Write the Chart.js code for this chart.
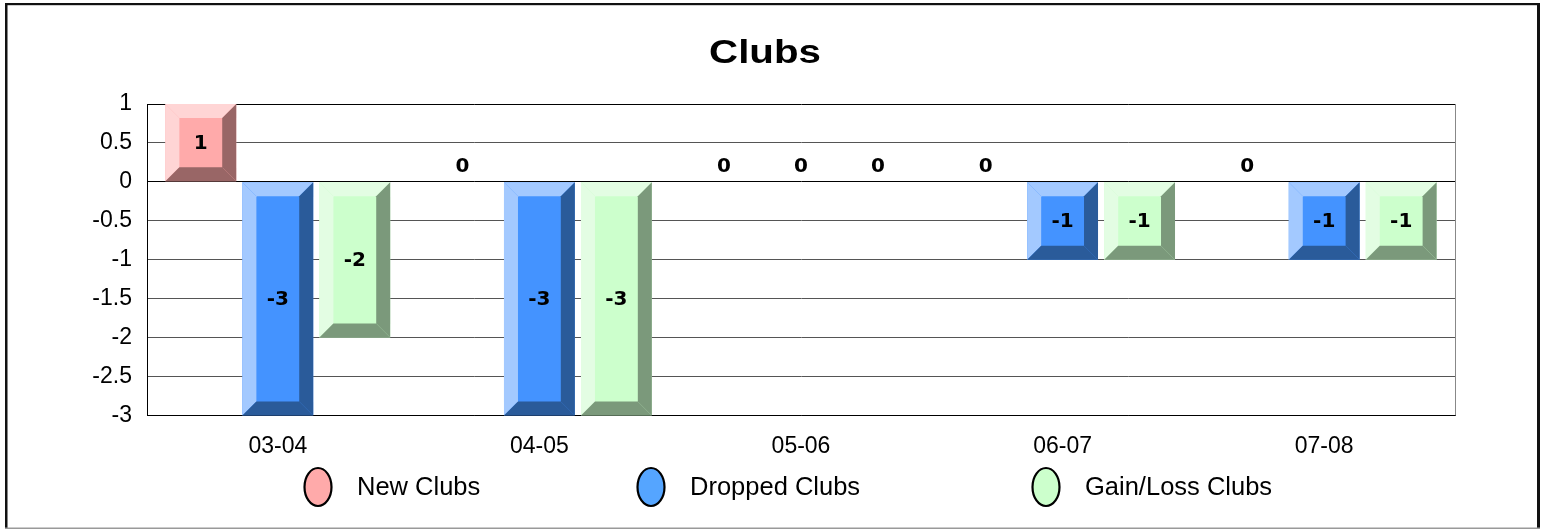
<!DOCTYPE html>
<html>
<head>
<meta charset="utf-8">
<script src="https://cdn.jsdelivr.net/npm/chart.js@4.4.0/dist/chart.umd.min.js"></script>
<style>
  html, body { margin: 0; padding: 0; background: #fff; }
  #wrap { position: relative; width: 1543px; height: 529px; }
</style>
</head>
<body>
<div id="wrap"><canvas id="c" width="1543" height="529"></canvas></div>
<script>
// ---- data ----
const chartTitle = 'Clubs';
const categories = ['03-04', '04-05', '05-06', '06-07', '07-08'];
const newClubs = [1, 0, 0, 0, 0];
const droppedClubs = [-3, -3, 0, -1, -1];
const gainLossClubs = [-2, -3, 0, -1, -1];
const seriesNames = ['New Clubs', 'Dropped Clubs', 'Gain/Loss Clubs'];
const yTicks = [1, 0.5, 0, -0.5, -1, -1.5, -2, -2.5, -3];

// ---- styles ----
const faceColors = ['#ffaaaa', '#4493ff', '#ccffcc'];
const lightColors = ['#ffd5d5', '#a3c9ff', '#e3fde3'];
const darkColors = ['#996666', '#2a5b9a', '#7b997b'];
const legendColors = ['#ffaaaa', '#55a5ff', '#ccffcc'];
const legendX = [318, 651, 1046];
const legendY = 487;
const BEVEL = 14;
const FONT = '"Liberation Sans", Arial, sans-serif';

const bevelPlugin = {
  id: 'bevel',
  beforeDraw(chart) {
    const ctx = chart.ctx;
    ctx.save();
    ctx.fillStyle = '#fff';
    ctx.fillRect(0, 0, chart.width, chart.height);
    ctx.restore();
  },
  afterDatasetsDraw(chart) {
    const ctx = chart.ctx;
    ctx.save();
    chart.data.datasets.forEach((ds, di) => {
      const meta = chart.getDatasetMeta(di);
      meta.data.forEach((bar) => {
        const p = bar.getProps(['x', 'y', 'base', 'width'], true);
        const L = p.x - p.width / 2, R = p.x + p.width / 2;
        const T = Math.min(p.y, p.base), B = Math.max(p.y, p.base);
        if (B - T < 1) return;
        const b = Math.min(BEVEL, (B - T) / 2, (R - L) / 2);
        const poly = (pts, col) => {
          ctx.beginPath();
          ctx.moveTo(pts[0][0], pts[0][1]);
          for (let i = 1; i < pts.length; i++) ctx.lineTo(pts[i][0], pts[i][1]);
          ctx.closePath();
          ctx.fillStyle = col;
          ctx.fill();
        };
        poly([[L, T], [R, T], [R - b, T + b], [L + b, T + b]], lightColors[di]);
        poly([[L, T], [L + b, T + b], [L + b, B - b], [L, B]], lightColors[di]);
        poly([[R, T], [R, B], [R - b, B - b], [R - b, T + b]], darkColors[di]);
        poly([[L, B], [L + b, B - b], [R - b, B - b], [R, B]], darkColors[di]);
      });
    });
    // value labels
    const zeroY = chart.scales.y.getPixelForValue(0);
    ctx.font = 'bold 20px "DejaVu Sans", sans-serif';
    ctx.fillStyle = '#000';
    ctx.textAlign = 'center';
    ctx.textBaseline = 'middle';
    chart.data.datasets.forEach((ds, di) => {
      const meta = chart.getDatasetMeta(di);
      meta.data.forEach((bar, i) => {
        const v = ds.data[i];
        const p = bar.getProps(['x', 'y', 'base'], true);
        const y = v === 0 ? zeroY - 16 : (p.y + p.base) / 2;
        ctx.fillText(String(v), p.x, y + 1);
      });
    });
    ctx.restore();
  },
  afterDraw(chart) {
    const ctx = chart.ctx;
    const a = chart.chartArea;
    ctx.save();
    // title
    ctx.save();
    ctx.translate(765, 62.5);
    ctx.scale(1.22, 1);
    ctx.font = 'bold 33px ' + FONT;
    ctx.fillStyle = '#000';
    ctx.textAlign = 'center';
    ctx.textBaseline = 'alphabetic';
    ctx.fillText(chartTitle, 0, 0);
    ctx.restore();
    // right edge of plot area
    ctx.strokeStyle = '#888';
    ctx.lineWidth = 1;
    ctx.beginPath();
    ctx.moveTo(Math.round(a.right) + 0.5, a.top);
    ctx.lineTo(Math.round(a.right) + 0.5, a.bottom);
    ctx.stroke();
    // legend
    ctx.font = '25.5px ' + FONT;
    ctx.textAlign = 'left';
    ctx.textBaseline = 'middle';
    chart.data.datasets.forEach((ds, di) => {
      const cx = legendX[di];
      ctx.beginPath();
      ctx.ellipse(cx, legendY, 13.5, 19, 0, 0, Math.PI * 2);
      ctx.fillStyle = legendColors[di];
      ctx.fill();
      ctx.lineWidth = 2.2;
      ctx.strokeStyle = '#000';
      ctx.stroke();
      ctx.fillStyle = '#000';
      ctx.fillText(ds.label, cx + 39, legendY + 1);
    });
    // outer frame
    ctx.fillStyle = '#111';
    ctx.fillRect(5, 3, 2.5, 526);
    ctx.fillRect(5, 3, 1535, 2.2);
    ctx.fillRect(1537, 3, 3, 526);
    ctx.fillStyle = '#999';
    ctx.fillRect(5, 527.5, 1535, 1.5);
    ctx.restore();
  }
};

const datasets = [newClubs, droppedClubs, gainLossClubs].map((d, i) => ({
  label: seriesNames[i],
  data: d,
  backgroundColor: faceColors[i],
  borderWidth: 0,
  categoryPercentage: 0.883,
  barPercentage: 0.92
}));

new Chart(document.getElementById('c'), {
  type: 'bar',
  data: { labels: categories, datasets },
  plugins: [bevelPlugin],
  options: {
    responsive: false,
    animation: false,
    devicePixelRatio: 1,
    layout: { padding: { left: 0, right: 88, top: 104, bottom: 60 } },
    plugins: {
      legend: { display: false },
      tooltip: { enabled: false },
      title: { display: false }
    },
    scales: {
      x: {
        grid: { display: false },
        border: { display: true, color: '#000', width: 1 },
        ticks: {
          color: '#000',
          padding: 9,
          font: { family: FONT, size: 23 }
        }
      },
      y: {
        min: yTicks[yTicks.length - 1],
        max: yTicks[0],
        afterBuildTicks(scale) { scale.ticks = yTicks.map(v => ({ value: v })); },
        afterFit(scale) { scale.width = 147; },
        grid: {
          drawTicks: false,
          color: (c) => (c.tick && (c.tick.value === 0 || c.tick.value === 1)) ? '#000' : '#555',
          lineWidth: 1
        },
        border: { display: true, color: '#000', width: 1 },
        ticks: {
          color: '#000',
          padding: 15,
          font: { family: FONT, size: 23 },
          callback: (v) => String(v)
        }
      }
    }
  }
});
</script>
</body>
</html>
